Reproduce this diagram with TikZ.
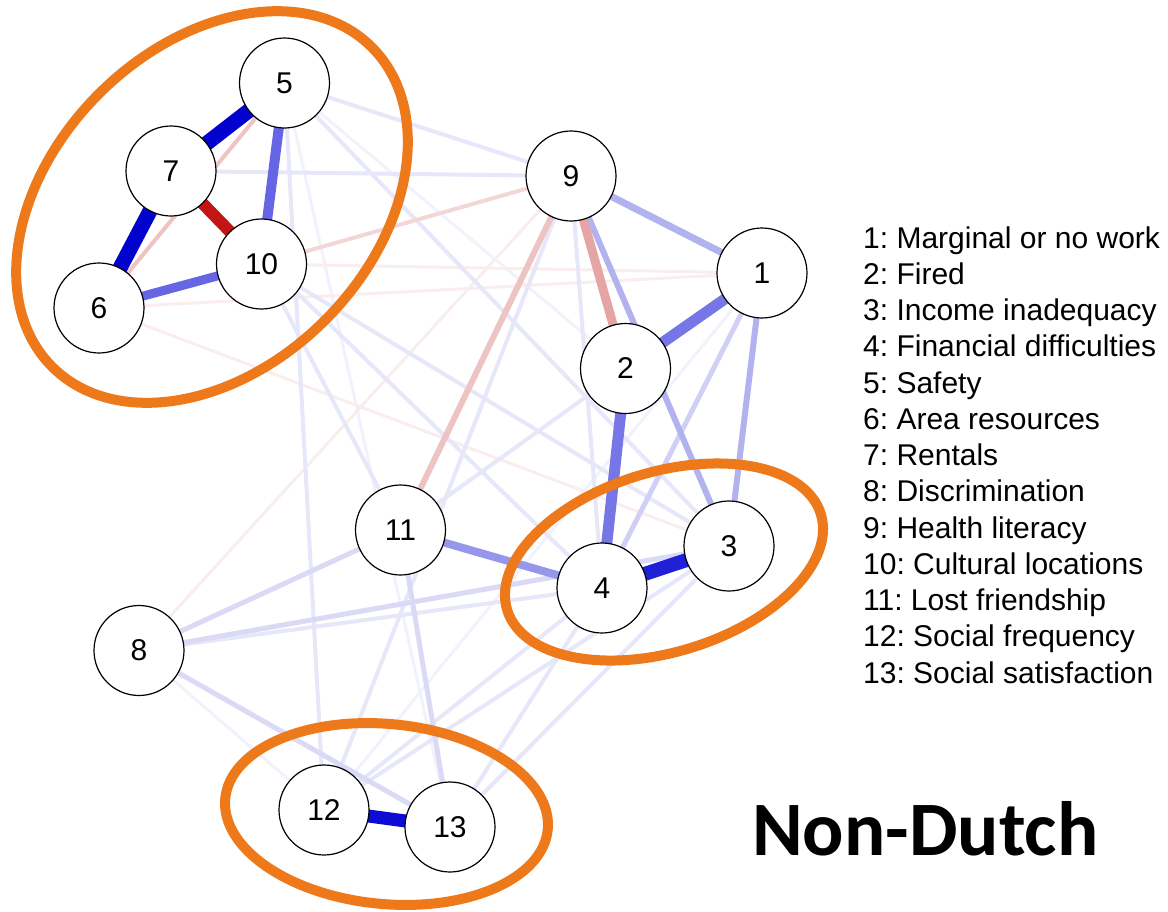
\documentclass[tikz,border=0pt]{standalone}
\usepackage{fontspec}
\setmainfont{Liberation Sans}
\newfontfamily\titlefont{Carlito}
\usetikzlibrary{backgrounds}
\frenchspacing
\definecolor{ringorange}{RGB}{238,121,26}
\definecolor{vfb}{RGB}{242,242,253}
\definecolor{fb}{RGB}{231,231,250}
\definecolor{fbs}{RGB}{218,218,247}
\definecolor{fp}{RGB}{250,237,237}
\definecolor{pk}{RGB}{243,215,215}
\definecolor{pkm}{RGB}{238,195,195}
\definecolor{pks}{RGB}{230,165,165}
\definecolor{lb}{RGB}{208,208,246}
\definecolor{mb}{RGB}{178,178,238}
\definecolor{mbs}{RGB}{150,150,235}
\definecolor{sb}{RGB}{118,118,230}
\definecolor{sbb}{RGB}{102,102,228}
\definecolor{db}{RGB}{32,32,214}
\definecolor{ddb}{RGB}{12,12,212}
\definecolor{xb}{RGB}{2,2,207}
\definecolor{dr}{RGB}{194,22,22}
\begin{document}
\begin{tikzpicture}[x=1pt,y=1pt,
  vnode/.style={circle,draw=black,line width=1.2pt,fill=white,minimum size=90pt,inner sep=0pt,
    font=\fontsize{30}{30}\selectfont},
  legend/.style={anchor=base west,inner sep=0pt,font=\fontsize{30}{30}\selectfont},
  ring/.style={draw=ringorange,line width=10pt},
  lnk/.style={line width=#1pt}
]
\useasboundingbox (0,0) rectangle (1168,-911);
% nodes
\node[vnode] (n5) at (284.5,-83) {5};
\node[vnode] (n7) at (171,-171) {7};
\node[vnode] (n10) at (261.5,-264) {10};
\node[vnode] (n6) at (99,-308) {6};
\node[vnode] (n9) at (571,-176) {9};
\node[vnode] (n1) at (762,-273) {1};
\node[vnode] (n2) at (625.5,-368.5) {2};
\node[vnode] (n11) at (400.5,-530) {11};
\node[vnode] (n4) at (602,-588) {4};
\node[vnode] (n3) at (729,-546) {3};
\node[vnode] (n8) at (139,-650.5) {8};
\node[vnode] (n12) at (324,-810) {12};
\node[vnode] (n13) at (450,-827) {13};
% edges
\begin{pgfonlayer}{background}
\foreach \a/\b in {8/12,5/2,12/1,5/13}
  \draw[lnk=3,vfb] (n\a.center) -- (n\b.center);
\foreach \a/\b in {10/1,6/1,6/3,8/9}
  \draw[lnk=3,fp] (n\a.center) -- (n\b.center);
\foreach \a/\b in {5/9,7/9,5/3,5/12,10/3,7/4,9/4,9/12,11/2,8/4,13/4,13/3,12/3,12/4,10/11}
  \draw[lnk=4,fb] (n\a.center) -- (n\b.center);
\foreach \a/\b in {8/11,8/3,8/13,11/13}
  \draw[lnk=5,fbs] (n\a.center) -- (n\b.center);
\draw[lnk=4,pk] (n10.center) -- (n9.center);
\draw[lnk=4,pkm] (n5.center) -- (n6.center);
\draw[lnk=6,pkm] (n9.center) -- (n11.center);
\draw[lnk=5,lb] (n1.center) -- (n4.center);
\draw[lnk=7,mb] (n9.center) -- (n1.center);
\draw[lnk=6,mb] (n9.center) -- (n3.center);
\draw[lnk=6,mb] (n1.center) -- (n3.center);
\draw[lnk=9,pks] (n9.center) -- (n2.center);
\draw[lnk=8,mbs] (n11.center) -- (n4.center);
\draw[lnk=11,sb] (n1.center) -- (n2.center);
\draw[lnk=11,sb] (n2.center) -- (n4.center);
\draw[lnk=9,sbb] (n6.center) -- (n10.center);
\draw[lnk=10,sbb] (n5.center) -- (n10.center);
\draw[lnk=14,db] (n4.center) -- (n3.center);
\draw[lnk=13,ddb] (n12.center) -- (n13.center);
\draw[lnk=12,dr] (n7.center) -- (n10.center);
\draw[lnk=15,xb] (n5.center) -- (n7.center);
\draw[lnk=15,xb] (n6.center) -- (n7.center);
\end{pgfonlayer}
% groups
\draw[ring,rotate around={45:(212,-207)}] (212,-207) ellipse (226 and 160);
\draw[ring,rotate around={17:(664,-562)}] (664,-562) ellipse (164 and 90);
\draw[ring,rotate around={-5.5:(386.5,-814)}] (386.5,-814) ellipse (162 and 90);
% legend
\node[legend] (l1) at (863,-248) {1: Marginal or no work};
\node[legend] (l2) at (863,-284.25) {2: Fired};
\node[legend] (l3) at (863,-320.5) {3: Income inadequacy};
\node[legend] (l4) at (863,-356.75) {4: Financial difficulties};
\node[legend] (l5) at (863,-393) {5: Safety};
\node[legend] (l6) at (863,-429.25) {6: Area resources};
\node[legend] (l7) at (863,-465.5) {7: Rentals};
\node[legend] (l8) at (863,-501.75) {8: Discrimination};
\node[legend] (l9) at (863,-538) {9: Health literacy};
\node[legend] (l10) at (863,-574.25) {10: Cultural locations};
\node[legend] (l11) at (863,-610.5) {11: Lost friendship};
\node[legend] (l12) at (863,-646.75) {12: Social frequency};
\node[legend] (l13) at (863,-683) {13: Social satisfaction};
\node[anchor=base west,inner sep=0pt,font=\titlefont\bfseries\fontsize{77}{77}\selectfont] (title) at (752,-855) {Non-Dutch};
\end{tikzpicture}
\end{document}
